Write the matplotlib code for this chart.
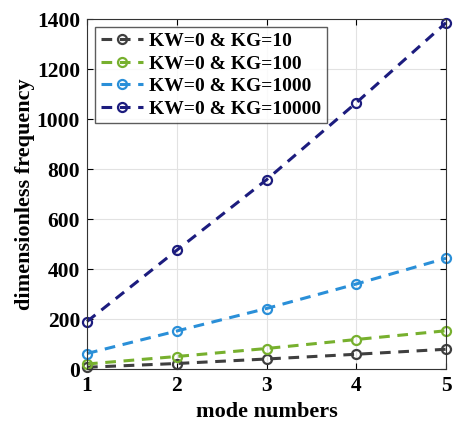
import matplotlib
matplotlib.use('Agg')
import matplotlib.pyplot as plt

modes = [1, 2, 3, 4, 5]
kg10 = [7, 22, 40, 59, 79]
kg100 = [20, 50, 82, 118, 153]
kg1000 = [62, 152, 242, 340, 443]
kg10000 = [190, 475, 757, 1065, 1385]
labels = ['KW=0 & KG=10', 'KW=0 & KG=100', 'KW=0 & KG=1000', 'KW=0 & KG=10000']
colors = ['#3f3f3f', '#77b02e', '#2a8fd8', '#1c1c7e']

plt.rcParams['font.family'] = 'Liberation Serif'
plt.rcParams['font.weight'] = 'bold'

fig = plt.figure(figsize=(4.54, 4.23), dpi=100)
ax = fig.add_axes([87 / 454, 1 - 369 / 423, 359 / 454, 350 / 423])

for vals, lab, c in zip([kg10, kg100, kg1000, kg10000], labels, colors):
    ax.plot(modes, vals, '--o', color=c, label=lab, lw=2.2, dashes=(3.5, 2.5),
            markersize=6.5, markerfacecolor='none', markeredgewidth=1.6, clip_on=False)

ax.set_xlim(1, 5)
ax.set_ylim(0, 1400)
ax.set_xticks(modes)
ax.set_yticks(range(0, 1401, 200))
ax.grid(True, color='#e2e2e2', lw=0.8)
ax.tick_params(labelsize=15.5, direction='in', length=4, pad=5, top=True, right=True)
for s in ax.spines.values():
    s.set_color('#333333')
ax.set_xlabel('mode numbers', fontsize=16, fontweight='bold', labelpad=4)
ax.set_ylabel('dimensionless frequency', fontsize=16, fontweight='bold', labelpad=1)

leg = ax.legend(loc='upper left', fontsize=14, frameon=True, fancybox=False,
                edgecolor='#333333', borderpad=0.3, labelspacing=0.25,
                handlelength=2.2, handletextpad=0.3, borderaxespad=0.4)
leg.get_frame().set_linewidth(1.0)

fig.savefig('out.png', dpi=100)
